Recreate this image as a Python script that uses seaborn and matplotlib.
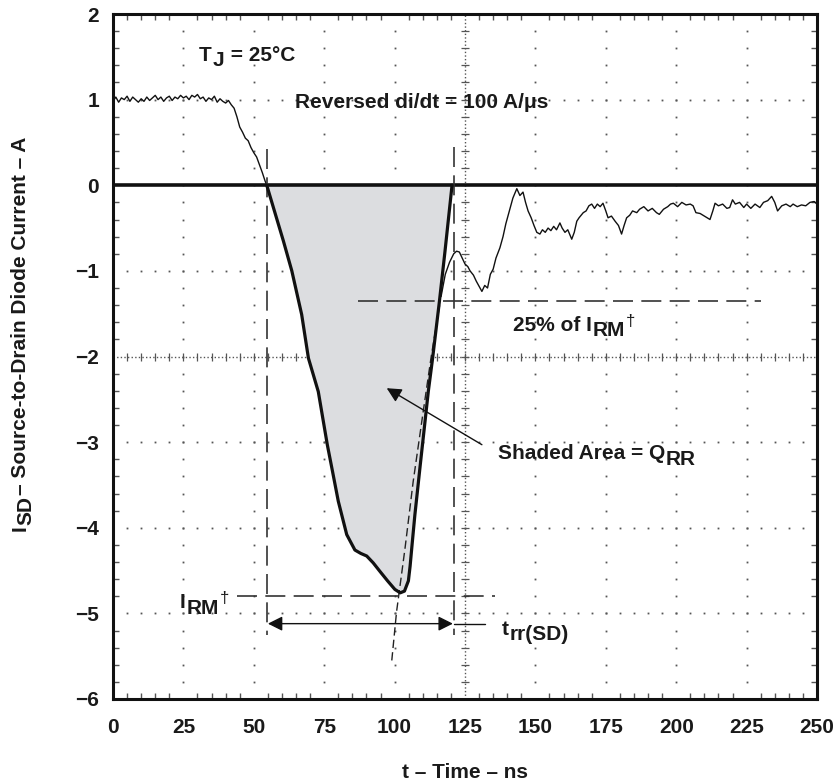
import numpy as np
import pandas as pd
import matplotlib
matplotlib.use("Agg")
import matplotlib.pyplot as plt
import seaborn as sns

# ---------------- data ----------------
pre_t = [0, 1, 2, 3, 4, 5, 6, 7, 8, 9, 10, 11, 12, 13, 14, 15, 16, 17, 18, 19, 20,
         21, 22, 23, 24, 25, 26, 27, 28, 29, 30, 31, 32, 33, 34, 35, 36, 37, 38, 39,
         40, 41, 42, 43, 44, 45, 46, 47, 48, 49, 50, 51, 52, 53, 54, 54.6]
pre_i = [0.98, 1.03, 0.97, 1.02, 1.00, 1.04, 0.98, 1.03, 1.00, 0.97, 1.01, 0.98, 1.03,
         0.99, 1.02, 1.05, 1.00, 1.03, 0.98, 1.02, 1.04, 0.99, 1.03, 1.01, 1.05, 1.02,
         1.04, 1.00, 1.05, 1.03, 1.06, 1.01, 1.03, 0.98, 1.02, 1.00, 1.04, 0.97, 1.01,
         0.98, 0.96, 0.99, 0.94, 0.90, 0.80, 0.68, 0.62, 0.55, 0.52, 0.44, 0.38, 0.33,
         0.24, 0.15, 0.05, 0.00]

lobe_t = [54.6, 57.5, 60.5, 63.5, 67.0, 69.4, 72.9, 76.1, 78.0, 80.0, 83.0, 85.9, 88.0,
          90.1, 92.4, 94.8, 97.5, 100.1, 102.0, 103.5, 104.9, 105.5, 106.2, 107.2, 109.0,
          110.5, 112.0, 113.5, 115.9, 117.9, 120.4]
lobe_i = [0.0, -0.32, -0.65, -1.00, -1.51, -2.02, -2.41, -3.03, -3.35, -3.69, -4.08, -4.26,
          -4.30, -4.33, -4.41, -4.51, -4.62, -4.72, -4.76, -4.74, -4.62, -4.45, -4.20,
          -3.85, -3.30, -2.85, -2.40, -2.02, -1.36, -0.77, 0.0]

rise_t = [99.0, 100.7, 102.0, 103.7, 106.6, 110.0, 113.0, 116.0]
rise_i = [-5.55, -4.98, -4.66, -4.24, -3.46, -2.68, -2.00, -1.40]

post_t = [116.5, 118, 119.5, 121, 122, 123, 124, 125, 126, 126.8, 128, 129, 130, 131, 132,
          133, 134, 135, 136, 137.4, 138.5, 139.5, 141, 142, 143.4, 144.5, 145.6, 146.5,
          147.4, 148.5, 149.5, 150.5, 151.6, 152.5, 153.5, 154.5, 155.5, 156.5, 157.5,
          158.7, 159.5, 160.5, 161.5, 162.9, 163.8, 164.7, 165.5, 167, 168, 169, 170, 171,
          172, 173, 174, 175, 175.8, 177, 178.3, 179.5, 180.6, 181.5, 182.4, 183.5, 184.5,
          186, 187, 188.5, 190, 191.5, 193, 194, 195.5, 197, 198, 199, 200.5, 202, 203.5,
          205, 206, 207, 208.5, 210, 212, 213, 213.8, 215, 216.5, 218, 219, 220, 221,
          222.5, 224, 225, 226.5, 228, 229.7, 231, 232.5, 233.9, 235, 236, 237.5, 239,
          240.5, 241.5, 243, 244.5, 246, 247.5, 249, 250]
post_i = [-1.30, -1.04, -0.90, -0.80, -0.77, -0.78, -0.85, -0.92, -0.95, -1.00, -1.05,
          -1.12, -1.18, -1.24, -1.17, -1.20, -1.04, -0.98, -0.85, -0.73, -0.60, -0.45,
          -0.27, -0.15, -0.04, -0.12, -0.08, -0.20, -0.30, -0.38, -0.47, -0.55, -0.57,
          -0.52, -0.55, -0.50, -0.53, -0.48, -0.52, -0.44, -0.50, -0.55, -0.52, -0.63,
          -0.55, -0.42, -0.38, -0.32, -0.30, -0.24, -0.22, -0.27, -0.22, -0.25, -0.21,
          -0.30, -0.38, -0.36, -0.42, -0.47, -0.57, -0.47, -0.38, -0.35, -0.30, -0.32,
          -0.28, -0.25, -0.30, -0.27, -0.32, -0.34, -0.28, -0.25, -0.22, -0.21, -0.25,
          -0.20, -0.23, -0.22, -0.24, -0.32, -0.33, -0.36, -0.40, -0.30, -0.21, -0.24,
          -0.22, -0.27, -0.26, -0.17, -0.22, -0.20, -0.26, -0.22, -0.27, -0.22, -0.26,
          -0.20, -0.18, -0.13, -0.20, -0.30, -0.24, -0.22, -0.25, -0.22, -0.25, -0.23,
          -0.24, -0.20, -0.19, -0.22]

x_ticks = [0, 25, 50, 75, 100, 125, 150, 175, 200, 225, 250]
y_ticks = [2, 1, 0, -1, -2, -3, -4, -5, -6]
y_tick_labels = ["2", "1", "0", "\u22121", "\u22122", "\u22123", "\u22124", "\u22125", "\u22126"]

t_start, t_end = 54.7, 121.0     # trr(SD) limits
i_rm = -4.80                      # IRM level
i_25 = -1.35                      # 25 % of IRM level

# ---------------- style ----------------
sns.set_theme(style="white")
plt.rcParams["font.family"] = ["Liberation Sans", "DejaVu Sans"]
plt.rcParams["font.weight"] = "bold"

FS = 15
TXT = "#1a1a1a"
W, H = 835, 782
fig = plt.figure(figsize=(W / 100, H / 100), dpi=100)
L, R, T, B = 113, 817, 14, 699
ax = fig.add_axes([L / W, 1 - B / H, (R - L) / W, (B - T) / H])
ax.set_xlim(0, 250)
ax.set_ylim(-6, 2)

LEVEL = {"n": 0.0, "sub": -3.8, "sup": 4.5}


def rich(x, y, parts):
    """Horizontal text made of pieces; subscripts full size but lowered."""
    level = 0.0
    prev = None
    for kind, s in parts:
        new_level = LEVEL[kind]
        size = FS if kind != "sup" else FS - 3
        weight = "bold" if kind != "sup" else "normal"
        if prev is None:
            prev = ax.text(x, y, s, fontsize=size, fontweight=weight, color=TXT,
                           va="baseline", ha="left", zorder=7)
        else:
            prev = ax.annotate(s, xy=(1, 0), xycoords=prev,
                               xytext=(0.5, new_level - level), textcoords="offset points",
                               fontsize=size, fontweight=weight, color=TXT,
                               va="bottom", ha="left", zorder=7)
        level = new_level


def rich_vertical(x, y, parts):
    """Text rotated by 90 degrees (reading upwards), built of pieces."""
    level = 0.0
    prev = None
    for kind, s in parts:
        new_level = LEVEL[kind]
        if prev is None:
            prev = ax.text(x, y, s, transform=ax.transAxes, rotation=90,
                           rotation_mode="anchor", fontsize=FS, fontweight="bold",
                           color=TXT, ha="left", va="bottom", zorder=7, clip_on=False)
        else:
            prev = ax.annotate(s, xy=(1, 1), xycoords=prev,
                               xytext=(-(new_level - level), 0.5),
                               textcoords="offset points", rotation=90,
                               rotation_mode="anchor", fontsize=FS, fontweight="bold",
                               color=TXT, ha="left", va="bottom", zorder=7,
                               annotation_clip=False)
        level = new_level


# ---------------- graticule ----------------
gcol = "#555555"
ydots = np.arange(-6, 2.001, 0.2)
xdots = np.arange(0, 250.01, 5)
for xv in [25, 50, 75, 100, 150, 175, 200, 225]:
    ax.plot(np.full_like(ydots, xv), ydots, ls="none", marker="s", ms=1.3,
            mec="none", mfc=gcol, zorder=1)
for yv in [1, -1, -3, -4, -5]:
    ax.plot(xdots, np.full_like(xdots, yv), ls="none", marker="s", ms=1.3,
            mec="none", mfc=gcol, zorder=1)
# centre cross
ax.axvline(125, color=gcol, lw=1.0, ls=(0, (1, 1.6)), zorder=1)
ax.axhline(-2, color=gcol, lw=1.0, ls=(0, (1, 1.6)), zorder=1)
ax.plot(np.full_like(ydots, 125), ydots, ls="none", marker="_", ms=6, mew=0.9,
        color=gcol, zorder=1)
ax.plot(xdots, np.full_like(xdots, -2), ls="none", marker="|", ms=6, mew=0.9,
        color=gcol, zorder=1)

# ---------------- shaded QRR area ----------------
ax.fill_between(lobe_t, lobe_i, 0, color="#dcdde0", lw=0, zorder=2)

# zero line
ax.axhline(0, color="#111111", lw=2.6, zorder=3)

# traces
sns.lineplot(x=pre_t, y=pre_i, ax=ax, color="#111111", lw=1.0, sort=False,
             estimator=None, zorder=4)
sns.lineplot(x=lobe_t, y=lobe_i, ax=ax, color="#111111", lw=2.3, sort=False,
             estimator=None, zorder=5)
sns.lineplot(x=rise_t, y=rise_i, ax=ax, color="#222222", lw=1.0, sort=False,
             estimator=None, zorder=4, linestyle=(0, (6, 3)))
sns.lineplot(x=post_t, y=post_i, ax=ax, color="#111111", lw=1.0, sort=False,
             estimator=None, zorder=4)

# ---------------- measurement construction lines ----------------
dcol = "#333333"
dash = (0, (12, 5))
ax.plot([t_start, t_start], [0.42, -5.25], color=dcol, lw=1.2, ls=dash, zorder=4)
ax.plot([t_end, t_end], [0.45, -5.25], color=dcol, lw=1.2, ls=dash, zorder=4)
ax.plot([44, 135.6], [i_rm, i_rm], color=dcol, lw=1.2, ls=dash, zorder=4)
ax.plot([87, 230], [i_25, i_25], color=dcol, lw=1.2, ls=dash, zorder=4)

# trr arrow
ax.annotate("", xy=(t_start + 0.3, -5.12), xytext=(t_end - 0.3, -5.12),
            arrowprops=dict(arrowstyle="<|-|>", color="#111111", lw=1.0,
                            mutation_scale=22, shrinkA=0, shrinkB=0), zorder=6)
ax.plot([t_end, 132], [-5.12, -5.12], color="#111111", lw=1.0, zorder=6)

# QRR pointer
ax.annotate("", xy=(97.2, -2.37), xytext=(131, -3.03),
            arrowprops=dict(arrowstyle="-|>", color="#111111", lw=1.0,
                            mutation_scale=22, shrinkA=0, shrinkB=0), zorder=6)

# ---------------- texts ----------------
rich(30.5, 1.45, [("n", "T"), ("sub", "J"), ("n", " = 25°C")])
ax.text(64.6, 0.97, "Reversed di/dt = 100 A/\u03bcs", fontsize=FS, fontweight="bold",
        color=TXT, va="center", ha="left", zorder=7)
rich(142, -1.70, [("n", "25% of I"), ("sub", "RM"), ("sup", "\u2020")])
rich(136.7, -3.20, [("n", "Shaded Area = Q"), ("sub", "RR")])
rich(23.8, -4.94, [("n", "I"), ("sub", "RM"), ("sup", "\u2020")])
rich(138, -5.25, [("n", "t"), ("sub", "rr(SD)")])

# ---------------- axes ----------------
ax.set_xticks(x_ticks)
ax.set_xticklabels([str(v) for v in x_ticks], fontsize=FS, fontweight="bold")
ax.set_yticks(y_ticks)
ax.set_yticklabels(y_tick_labels, fontsize=FS, fontweight="bold")
ax.set_xticks(np.arange(0, 250.01, 5), minor=True)
ax.set_yticks(np.arange(-6, 2.001, 0.2), minor=True)
ax.tick_params(axis="both", which="major", length=0, pad=14, labelcolor=TXT)
ax.tick_params(axis="y", which="major", pad=10)
ax.tick_params(axis="both", which="minor", direction="in", length=4, width=1,
               color=gcol, top=True, bottom=True, left=True, right=True)
for s in ax.spines.values():
    s.set_visible(True)
    s.set_color("#111111")
    s.set_linewidth(2.2)

ax.set_xlabel("t \u2013 Time \u2013 ns", fontsize=FS, fontweight="bold", color=TXT)
ax.xaxis.set_label_coords(0.5, -0.093)
ax.set_ylabel("")
rich_vertical(-0.118, 0.245,
              [("n", "I"), ("sub", "SD"), ("n", "\u2013 Source-to-Drain Diode Current \u2013 A")])

fig.savefig("out.png", dpi=100)
